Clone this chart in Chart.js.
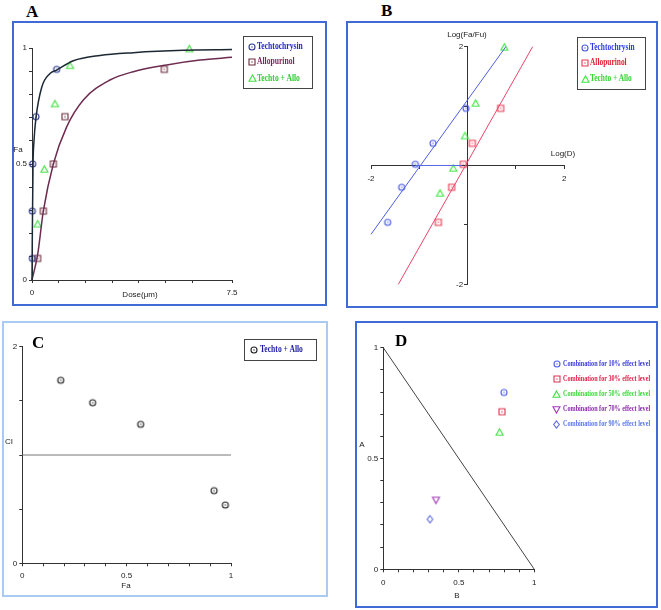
<!DOCTYPE html>
<html lang="en">
<head>
<meta charset="UTF-8">
<title>Techtochrysin + Allopurinol combination analysis</title>
<script src="https://cdn.jsdelivr.net/npm/chart.js@4"></script>
<style>
  body { margin: 0; background: #fff; }
  #page { position: relative; width: 661px; height: 610px; overflow: hidden; font-family: 'Liberation Sans', Arial, sans-serif; }
  .box { position: absolute; box-sizing: border-box; border: 2px solid #3e6bd5; }
  .box canvas { position: absolute; left: 0; top: 0; }
  .txt { position: absolute; white-space: nowrap; line-height: 1; }
  .letter { font: bold 17px 'Liberation Serif', serif; color: #000; }
  .axt { font-size: 8px; color: #222; transform: translate(-50%, -50%); }
  .leg { position: absolute; box-sizing: border-box; border: 1px solid #444; }
  .entry { position: absolute; white-space: nowrap; line-height: 1; font-family: 'Liberation Serif', serif; font-weight: bold; transform-origin: left center; }
</style>
</head>
<body>
<div id="page">
  <div class="txt letter" style="left:26px;top:2px">A</div>
  <div class="txt letter" style="left:381px;top:1px">B</div>

  <div class="box" id="boxA" style="left:12px;top:21px;width:315px;height:285px">
    <canvas id="chartA" width="311" height="281"></canvas>
  </div>
  <div class="box" id="boxB" style="left:346px;top:21px;width:312px;height:287px">
    <canvas id="chartB" width="308" height="283"></canvas>
  </div>
  <div class="box" id="boxC" style="left:2px;top:321px;width:326px;height:276px;border-color:#a9cbf2">
    <canvas id="chartC" width="322" height="272"></canvas>
  </div>
  <div class="box" id="boxD" style="left:355px;top:321px;width:303px;height:287px">
    <canvas id="chartD" width="299" height="283"></canvas>
  </div>

  <div class="txt letter" style="left:32px;top:333px">C</div>
  <div class="txt letter" style="left:395px;top:331px">D</div>

  <div class="txt axt" style="left:18px;top:150px">Fa</div>
  <div class="txt axt" style="left:140px;top:295px">Dose(μm)</div>
  <div class="txt axt" style="left:467px;top:35px">Log(Fa/Fu)</div>
  <div class="txt axt" style="left:563px;top:154px">Log(D)</div>
  <div class="txt axt" style="left:9px;top:442px">CI</div>
  <div class="txt axt" style="left:126px;top:586px">Fa</div>
  <div class="txt axt" style="left:362px;top:445px">A</div>
  <div class="txt axt" style="left:457px;top:596px">B</div>

  <div class="leg" style="left:243px;top:36px;width:70px;height:53px"></div>
  <div class="leg" style="left:577px;top:37px;width:69px;height:53px"></div>
  <div class="leg" style="left:244px;top:339px;width:73px;height:22px"></div>
</div>

<script>
// ---- data ----
const seriesNames = ['Techtochrysin', 'Allopurinol', 'Techto + Allo'];

// A: dose-effect curves
const techCurveDose = [0, 0.0125, 0.0375, 0.075, 0.15, 0.3625, 0.675, 0.925, 1.55, 2.55, 3.8, 5.675, 7.5];
const techCurveFa   = [0, 0.20, 0.49, 0.60, 0.70, 0.83, 0.89, 0.905, 0.945, 0.968, 0.98, 0.99, 0.993];
const alloCurveDose = [0, 0.2125, 0.425, 0.8, 1.3, 1.925, 2.925, 3.8, 5.05, 6.3, 7.5];
const alloCurveFa   = [0, 0.11, 0.297, 0.5, 0.66, 0.776, 0.862, 0.898, 0.927, 0.948, 0.96];
const techDose  = [0.0125, 0.0125, 0.025, 0.15, 0.925];
const techFa    = [0.093, 0.297, 0.5, 0.704, 0.908];
const alloDose  = [0.2125, 0.425, 0.8, 1.2375, 4.96];
const alloFa    = [0.093, 0.297, 0.5, 0.704, 0.908];
const comboDose = [0.2125, 0.4625, 0.8625, 1.425, 5.9];
const comboFa   = [0.241, 0.477, 0.759, 0.924, 0.996];

// B: median-effect plot
const techLogD   = [-1.655, -1.366, -1.083, -0.717, -0.034];
const techLogFa  = [-0.957, -0.367, 0.02, 0.373, 0.962];
const alloLogD   = [-0.607, -0.331, -0.09, 0.097, 0.683];
const alloLogFa  = [-0.957, -0.367, 0.02, 0.373, 0.962];
const comboLogD  = [-0.572, -0.297, -0.055, 0.166, 0.759];
const comboLogFa = [-0.469, -0.048, 0.497, 1.046, 1.99];
const techLineX  = [-2, 0.79];
const techLineY  = [-1.158, 2];
const alloLineX  = [-1.434, 1.345];
const alloLineY  = [-2, 2];
const dmLineX    = [-1.083, -0.12];
const dmLineY    = [0, 0];

// C: combination index
const ciFa  = [0.184, 0.337, 0.567, 0.919, 0.973];
const ciVal = [1.69, 1.483, 1.283, 0.671, 0.538];
const ciRefFa = [0, 1];
const ciRefY  = [1, 1];

// D: isobologram
const effectLevels = ['10%', '30%', '50%', '70%', '90%'];
const isoB = [0.799, 0.786, 0.770, 0.349, 0.309];
const isoA = [0.798, 0.711, 0.618, 0.313, 0.226];
const diagB = [0, 1];
const diagA = [1, 0];

// ---- helpers ----
const xy = (xs, ys) => xs.map((x, i) => ({ x: x, y: ys[i] }));

function marker(shape, color, size, dot) {
  const c = document.createElement('canvas');
  const s = size + 4;
  c.width = s; c.height = s;
  const g = c.getContext('2d');
  g.strokeStyle = color; g.fillStyle = color; g.lineWidth = 1.1;
  const m = s / 2, r = size / 2;
  g.beginPath();
  if (shape === 'circle') g.arc(m, m, r, 0, Math.PI * 2);
  else if (shape === 'square') g.rect(m - r, m - r, size, size);
  else if (shape === 'tri') { g.moveTo(m, m - r); g.lineTo(m + r, m + r * 0.8); g.lineTo(m - r, m + r * 0.8); g.closePath(); }
  else if (shape === 'down') { g.moveTo(m, m + r); g.lineTo(m + r, m - r * 0.8); g.lineTo(m - r, m - r * 0.8); g.closePath(); }
  else if (shape === 'diamond') { g.moveTo(m, m - r); g.lineTo(m + r * 0.8, m); g.lineTo(m, m + r); g.lineTo(m - r * 0.8, m); g.closePath(); }
  g.stroke();
  if (dot) g.fillRect(m - 0.6, m - 0.6, 1.2, 1.2);
  return c;
}

function axis(min, max, step, labels, extra, suffix) {
  return Object.assign({
    type: 'linear', min: min, max: max,
    border: { display: true, color: '#333', width: 1 },
    grid: { drawOnChartArea: false, drawTicks: true, tickLength: 3, color: '#333' },
    ticks: {
      stepSize: step, autoSkip: false, maxRotation: 0, padding: 2, color: '#222',
      font: { family: 'Liberation Sans', size: 8 },
      callback: v => labels.some(l => Math.abs(l - v) < 1e-6) ? String(+v.toFixed(2)) + (suffix || '') : ''
    }
  }, extra || {});
}
const fixW = s => { s.width = 16; };
const fixH = s => { s.height = 16; };

function pts(xs, ys, style) {
  return { data: xy(xs, ys), showLine: false, pointStyle: style, pointRadius: 4, clip: false };
}
function line(xs, ys, color, width, smooth) {
  return {
    data: xy(xs, ys), showLine: true, pointRadius: 0, borderColor: color, borderWidth: width,
    cubicInterpolationMode: smooth ? 'monotone' : 'default', clip: false
  };
}

const base = {
  responsive: false, animation: false,
  plugins: { legend: { display: false }, tooltip: { enabled: false } }
};
function opts(padding, scales) {
  return Object.assign({}, base, { layout: { padding: padding }, scales: scales });
}

// ---- A ----
const ax = axis(0, 7.5, 1, [0, 7.5], { afterFit: fixH });
ax.ticks.padding = 5;
new Chart(document.getElementById('chartA'), {
  type: 'scatter',
  data: { datasets: [
    line(techCurveDose, techCurveFa, '#1c2833', 1.5, true),
    line(alloCurveDose, alloCurveFa, '#6d2c4f', 1.5, true),
    pts(techDose, techFa, marker('circle', '#2b3990', 6, true)),
    pts(alloDose, alloFa, marker('square', '#6b2a3a', 6, true)),
    pts(comboDose, comboFa, marker('tri', '#3fe03f', 7, false))
  ] },
  options: opts({ left: 2, right: 93, top: 25, bottom: 8 }, {
    x: ax,
    y: axis(0, 1, 0.1, [0, 0.5, 1], { afterFit: fixW })
  })
});

// ---- B (axes cross at the origin) ----
const bx = axis(-2, 2, 1, [-2, 2], { position: { y: 0 } });
bx.ticks.padding = 5;
// centred y labels sit flush on the axis, so pad them with trailing spaces
const by = axis(-2, 2, 1, [-2, 2], { position: { x: 0 } }, '  ');
new Chart(document.getElementById('chartB'), {
  type: 'scatter',
  data: { datasets: [
    line(techLineX, techLineY, '#4f5fe0', 1, false),
    line(alloLineX, alloLineY, '#e8456a', 1, false),
    line(dmLineX, dmLineY, '#5a6ae6', 1, false),
    pts(techLogD, techLogFa, marker('circle', '#4a5ae6', 6, true)),
    pts(alloLogD, alloLogFa, marker('square', '#e83850', 6, true)),
    pts(comboLogD, comboLogFa, marker('tri', '#3ee83e', 7, false))
  ] },
  options: opts({ left: 23, right: 91.7, top: 23.7, bottom: 21.7 }, { x: bx, y: by })
});

// ---- C ----
const cx = axis(0, 1, 0.1, [0, 0.5, 1], { afterFit: fixH });
cx.ticks.padding = 5;
new Chart(document.getElementById('chartC'), {
  type: 'scatter',
  data: { datasets: [
    line(ciRefFa, ciRefY, '#777', 1, false),
    pts(ciFa, ciVal, marker('circle', '#222', 6, true))
  ] },
  options: opts({ left: 2.3, right: 95, top: 23.7, bottom: 15.7 }, {
    x: cx,
    y: axis(0, 2, 0.5, [0, 2], { afterFit: fixW })
  })
});

// ---- D ----
const isoStyles = [
  marker('circle', '#5060e8', 6, true),
  marker('square', '#e03050', 6, true),
  marker('tri', '#40e040', 7, false),
  marker('down', '#a03ab8', 7, false),
  marker('diamond', '#5a6ae0', 7, false)
];
const dx = axis(0, 1, 0.1, [0, 0.5, 1], { afterFit: fixH });
dx.ticks.padding = 6;
new Chart(document.getElementById('chartD'), {
  type: 'scatter',
  data: { datasets: [line(diagB, diagA, '#444', 1, false)].concat(
    isoB.map((b, i) => pts([b], [isoA[i]], isoStyles[i]))) },
  options: opts({ left: 10.3, right: 121.7, top: 24.7, bottom: 20.7 }, {
    x: dx,
    y: axis(0, 1, 0.1, [0, 0.5, 1], { afterFit: fixW })
  })
});

// ---- legends ----
const page = document.getElementById('page');
function entry(x, y, symX, img, text, color, size, scale) {
  const d = document.createElement('div');
  d.className = 'entry';
  d.style.left = x + 'px';
  d.style.top = (y - size / 2) + 'px';
  d.style.fontSize = size + 'px';
  d.style.color = color;
  d.style.transform = 'scaleX(' + scale + ')';
  d.textContent = text;
  page.appendChild(d);
  const im = document.createElement('img');
  im.src = img.toDataURL();
  im.style.position = 'absolute';
  im.style.left = (symX - img.width / 2) + 'px';
  im.style.top = (y - img.height / 2) + 'px';
  page.appendChild(im);
}
const legA = [
  [marker('circle', '#2b3990', 6, true), '#2424c8'],
  [marker('square', '#6b2a3a', 6, true), '#7a1f5a'],
  [marker('tri', '#3fe03f', 7, false), '#33cc33']
];
const legAy = [46.5, 62, 78.5];
seriesNames.forEach((n, i) => entry(257, legAy[i], 252, legA[i][0], n, legA[i][1], 9.5, 0.8));
const legB = [
  [marker('circle', '#4a5ae6', 6, true), '#2a3ae0'],
  [marker('square', '#e83850', 6, true), '#e0203a'],
  [marker('tri', '#3ee83e', 7, false), '#33d633']
];
const legBy = [47.5, 62.5, 79];
seriesNames.forEach((n, i) => entry(590, legBy[i], 585, legB[i][0], n, legB[i][1], 9.5, 0.78));
entry(260, 350, 253.5, marker('circle', '#222', 6, true), seriesNames[2], '#1a1aa0', 9.5, 0.8);
const legDcol = ['#3838e0', '#e0204a', '#3ad83a', '#8a2aa8', '#5a78e8'];
const legDy = [364.3, 378.5, 394, 409.3, 424.3];
effectLevels.forEach((lv, i) =>
  entry(563, legDy[i], 556.5, isoStyles[i], 'Combination for ' + lv + ' effect level', legDcol[i], 8, 0.77));
</script>
</body>
</html>
